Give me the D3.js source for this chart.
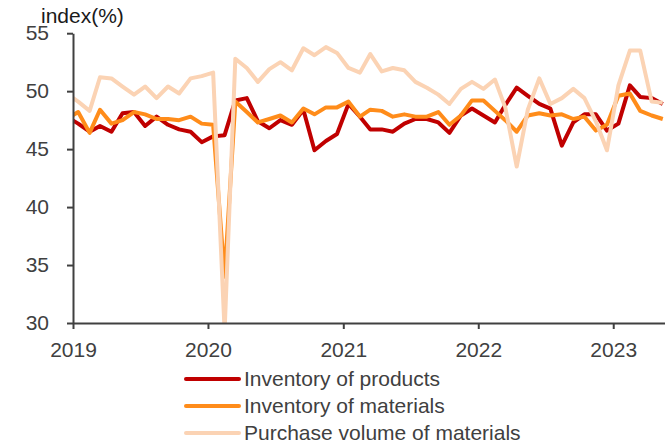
<!DOCTYPE html>
<html>
<head>
<meta charset="utf-8">
<script src="https://cdn.jsdelivr.net/npm/d3@7"></script>
<style>
  html, body { margin: 0; padding: 0; background: #fff; }
  svg { display: block; font-family: "Liberation Sans", Arial, sans-serif; }
</style>
</head>
<body>
<div id="chart"></div>
<script>
// Months from Dec 2018 to May 2023 (points sit mid-month)
const startYear = 2018, startMonth = 11; // Dec 2018
const productsInventory = [
  47.8,
  47.2, 46.5, 47.0, 46.5, 48.1, 48.2, 47.0, 47.8, 47.1, 46.7, 46.5, 45.6,
  46.1, 46.2, 49.2, 49.4, 47.4, 46.8, 47.5, 47.1, 48.4, 44.9, 45.7, 46.3,
  48.9, 47.8, 46.7, 46.7, 46.5, 47.2, 47.6, 47.6, 47.3, 46.4, 47.9, 48.5,
  47.9, 47.3, 48.8, 50.3, 49.6, 48.9, 48.5, 45.3, 47.3, 48.0, 48.0, 46.6,
  47.2, 50.5, 49.5, 49.4, 48.9
];
const materialsInventory = [
  47.6,
  48.2, 46.4, 48.4, 47.2, 47.5, 48.2, 48.0, 47.6, 47.6, 47.5, 47.8, 47.2,
  47.1, 34.0, 49.1, 48.2, 47.3, 47.6, 47.9, 47.3, 48.5, 48.0, 48.6, 48.6,
  49.1, 47.8, 48.4, 48.3, 47.8, 48.0, 47.8, 47.8, 48.2, 47.1, 47.9, 49.2,
  49.2, 48.3, 47.5, 46.5, 47.9, 48.1, 47.9, 48.0, 47.6, 47.8, 46.6, 47.1,
  49.6, 49.8, 48.3, 47.9, 47.6
];
const purchaseVolume = [
  49.8,
  49.1, 48.3, 51.2, 51.1, 50.4, 49.7, 50.4, 49.4, 50.4, 49.8, 51.1, 51.3,
  51.6, 29.3, 52.8, 52.0, 50.8, 51.9, 52.5, 51.8, 53.7, 53.1, 53.8, 53.3,
  52.0, 51.6, 53.2, 51.7, 52.0, 51.8, 50.8, 50.3, 49.7, 48.9, 50.2, 50.8,
  50.2, 51.0, 48.6, 43.5, 48.4, 51.1, 48.9, 49.4, 50.2, 49.4, 47.4, 44.9,
  50.5, 53.5, 53.5, 49.1, 49.0
];
const seriesNames = ["Inventory of products", "Inventory of materials", "Purchase volume of materials"];
const seriesColors = ["#C00000", "#FF8C1A", "#FBD3B4"];
const yTicks = [30, 35, 40, 45, 50, 55];
const xTickYears = [2019, 2020, 2021, 2022, 2023];
const yTitle = "index(%)";

const W = 665, H = 444;
const svg = d3.select("#chart").append("svg").attr("width", W).attr("height", H);

const dates = productsInventory.map((_, i) => new Date(startYear, startMonth + i, 15));
const x = d3.scaleTime()
  .domain([new Date(2019, 0, 1), new Date(2023, 4, 21)])
  .range([73, 665]);
const y = d3.scaleLinear().domain([30, 55]).range([323, 33.2]);

svg.append("defs").append("clipPath").attr("id", "plotclip")
  .append("rect").attr("x", x.range()[0]).attr("y", 0)
  .attr("width", x.range()[1] - x.range()[0]).attr("height", y(30));

const allSeries = [productsInventory, materialsInventory, purchaseVolume];
const line = d3.line().x((d, i) => x(dates[i])).y(d => y(d));

const g = svg.append("g").attr("clip-path", "url(#plotclip)");
allSeries.forEach((s, k) => {
  g.append("path").datum(s)
    .attr("d", line)
    .attr("fill", "none")
    .attr("stroke", seriesColors[k])
    .attr("stroke-width", 4)
    .attr("stroke-linejoin", "round");
});

const axisColor = "#404040";
// Y axis
const yAxis = svg.append("g").attr("transform", `translate(${x.range()[0]},0)`)
  .call(d3.axisLeft(y).tickValues(yTicks).tickSize(6).tickPadding(18).tickSizeOuter(0));
// X axis
const xAxis = svg.append("g").attr("transform", `translate(0,${y(30)})`)
  .call(d3.axisBottom(x).tickValues(xTickYears.map(v => new Date(v, 0, 1)))
    .tickFormat(d3.timeFormat("%Y")).tickSize(6).tickPadding(13).tickSizeOuter(0));

[yAxis, xAxis].forEach(a => {
  a.select(".domain").attr("stroke", axisColor).attr("stroke-width", 2);
  a.selectAll(".tick line").attr("stroke", axisColor).attr("stroke-width", 2);
  a.selectAll(".tick text").attr("fill", axisColor).style("font-size", "21px")
    .style("font-family", "'Liberation Sans', Arial, sans-serif");
});

svg.append("text").attr("x", 41).attr("y", 23)
  .attr("fill", "#1a1a1a").style("font-size", "21px").text(yTitle);

// Legend
const legend = svg.append("g");
seriesNames.forEach((name, k) => {
  const ly = 379 + k * 27;
  legend.append("line").attr("x1", 186).attr("x2", 239).attr("y1", ly).attr("y2", ly)
    .attr("stroke", seriesColors[k]).attr("stroke-width", 4).attr("stroke-linecap", "round");
  legend.append("text").attr("x", 244).attr("y", ly).attr("dy", "0.35em")
    .attr("fill", axisColor).style("font-size", "21px").text(name);
});
</script>
</body>
</html>
